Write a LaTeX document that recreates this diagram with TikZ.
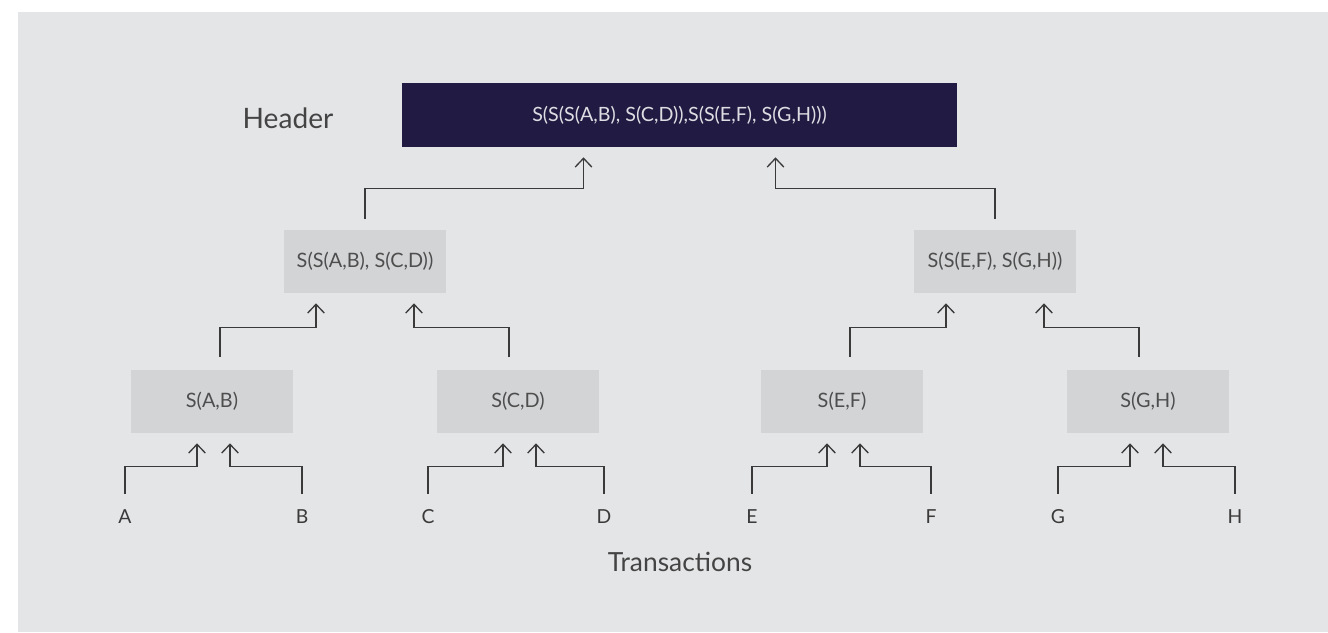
\documentclass[tikz,border=0pt]{standalone}
\usepackage{fontspec}
\setmainfont{Lato}
\usepackage{xcolor}
\usepackage{tikz}
\usetikzlibrary{arrows.meta}
\definecolor{paper}{HTML}{E4E5E7}
\definecolor{hashbox}{HTML}{D3D4D6}
\definecolor{headbox}{HTML}{211A42}
\definecolor{ink}{HTML}{3A3A3A}
\tikzset{every picture/.style={x=0.02cm,y=-0.02cm},
  hash/.style={rectangle, fill=hashbox, minimum width=3.24cm, minimum height=1.26cm, text=ink!90, font=\fontsize{11.3}{13}\selectfont},
  root/.style={rectangle, fill=headbox, minimum width=11.1cm, minimum height=1.28cm, text=white!85!headbox, font=\fontsize{11.2}{13}\selectfont},
  leaf/.style={inner xsep=0pt, inner ysep=9pt, text=ink, font=\fontsize{11}{13}\selectfont},
  caption/.style={text=ink!95, font=\fontsize{16}{19}\selectfont},
  link/.style={draw=ink, line width=0.75pt, -{Straight Barb[length=5pt,width=9.5pt]}}}

\begin{document}
\begin{tikzpicture}
        \useasboundingbox (0,0) rectangle (1328,632);
        \fill[white] (0,0) rectangle (1328,632);
        \fill[paper] (18,12) rectangle (1328,632);

        \node[root] (top) at (679.5, 115) {S(S(S(A,B), S(C,D)),S(S(E,F), S(G,H)))};
        \node[caption] (head) at (288, 118) {Header};

        \node[hash] (abcd) at (365, 261.5) {S(S(A,B), S(C,D))};
        \node[hash] (efgh) at (995, 261.5) {S(S(E,F), S(G,H))};

        \node[hash] (ab) at (212, 401.5) {S(A,B)};
        \node[hash] (cd) at (518, 401.5) {S(C,D)};
        \node[hash] (ef) at (842, 401.5) {S(E,F)};
        \node[hash] (gh) at (1148, 401.5) {S(G,H)};

        \node[leaf] (A) at (125, 517) {A};
        \node[leaf] (B) at (302, 517) {B};
        \node[leaf] (C) at (428, 517) {C};
        \node[leaf] (D) at (604, 517) {D};
        \node[leaf] (E) at (752, 517) {E};
        \node[leaf] (F) at (931, 517) {F};
        \node[leaf] (G) at (1058, 517) {G};
        \node[leaf] (H) at (1235, 517) {H};

        \node[caption, font=\fontsize{15}{18}\selectfont] (tx) at (680, 562) {Transactions};

        % leaves up to the first hashes
        \foreach \from/\to/\dx in {
          A/ab/-15, B/ab/18,
          C/cd/-15, D/cd/18,
          E/ef/-15, F/ef/18,
          G/gh/-18, H/gh/15}
        \draw[link] (\from.north) |- ([shift={(\dx,33)}]\to.south) -- ([shift={(\dx,10)}]\to.south);

        % hashes up to the next level
        \foreach \from/\to/\sx/\dx in {
          ab/abcd/8/-49, cd/abcd/-9/49,
          ef/efgh/8/-49, gh/efgh/-9/49}
        \draw[link] ([shift={(\sx,-13)}]\from.north) |- ([shift={(\dx,34)}]\to.south) -- ([shift={(\dx,10)}]\to.south);

        \foreach \from/\dx in {abcd/-96, efgh/96}
        \draw[link] ([shift={(0,-11)}]\from.north) |- ([shift={(\dx,41)}]top.south) -- ([shift={(\dx,10)}]top.south);
      \end{tikzpicture}
\end{document}
